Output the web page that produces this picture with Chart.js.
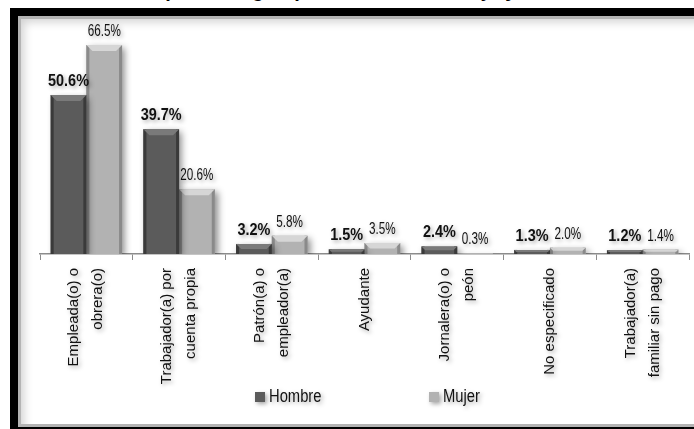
<!DOCTYPE html>
<html>
<head>
<meta charset="utf-8">
<script src="https://cdn.jsdelivr.net/npm/chart.js@4.4.1/dist/chart.umd.min.js"></script>
<style>
  body { margin: 0; background: #fff; overflow: hidden; }
  #wrap { position: relative; width: 694px; height: 429px; overflow: hidden; }
  #title {
    position: absolute; left: 0; top: -20px; width: 694px; text-align: center;
    font: bold 20px 'Liberation Sans', Arial, sans-serif; line-height: 20px; color: #000;
  }
  #frame {
    position: absolute; left: 10px; top: 8px; width: 800px; height: 411px;
    border: 8px solid #000; border-bottom-width: 2px; background: #fff;
    box-shadow: inset 3px 3px 0 #b4b4b4, inset 0 -3px 0 #b4b4b4, inset 6px 6px 10px rgba(0,0,0,0.18);
  }
  #myChart { position: absolute; left: 0; top: 0; }
</style>
</head>
<body>
<div id="wrap">
  <div id="title">Ocupados según posición en el trabajo y sexo</div>
  <div id="frame"></div>
  <canvas id="myChart" width="694" height="429"></canvas>
</div>
<script>
// data
const categories = [
  ['Empleada(o) o', 'obrera(o)'],
  ['Trabajador(a) por', 'cuenta propia'],
  ['Patrón(a) o', 'empleador(a)'],
  ['Ayudante'],
  ['Jornalera(o) o', 'peón'],
  ['No especificado'],
  ['Trabajador(a)', 'familiar sin pago']
]
const hombre = [50.6, 39.7, 3.2, 1.5, 2.4, 1.3, 1.2]
const mujer = [66.5, 20.6, 5.8, 3.5, 0.3, 2.0, 1.4]
const seriesNames = ['Hombre', 'Mujer']

const sans = "'Liberation Sans', Arial, sans-serif"
const barColors = ['#5b5b5b', '#b2b2b2']
const edgeColors = ['#3a3a3a', '#8a8a8a']
const topColors = ['#7a7a7a', '#d6d6d6']

function shadowOn(c, blur, off, alpha) {
  c.shadowColor = 'rgba(0,0,0,' + alpha + ')'
  c.shadowBlur = blur
  c.shadowOffsetX = off
  c.shadowOffsetY = off
}

// text squeezed sideways, the picture uses a narrow face
function narrowText(c, txt, x, y, squeeze) {
  c.save()
  c.translate(x, y)
  c.scale(squeeze, 1)
  c.fillText(txt, 0, 0)
  c.restore()
}

// shadow + bevel for the bars
const barLook = {
  id: 'barLook',
  beforeDatasetDraw(chart) {
    chart.ctx.save()
    shadowOn(chart.ctx, 7, 3, 0.45)
  },
  afterDatasetDraw(chart, args) {
    chart.ctx.restore()
    const c = chart.ctx
    const i = args.index
    args.meta.data.forEach(bar => {
      const left = bar.x - bar.width / 2
      const right = bar.x + bar.width / 2
      const top = bar.y
      const h = bar.base - bar.y
      if (h < 1) return
      const b = Math.min(6, h / 2)
      c.fillStyle = edgeColors[i]
      c.fillRect(left, top, 3, h)
      c.fillRect(right - 3, top, 3, h)
      c.beginPath()
      c.moveTo(left, top)
      c.lineTo(right, top)
      c.lineTo(right - b, top + b)
      c.lineTo(left + b, top + b)
      c.closePath()
      c.fillStyle = topColors[i]
      c.fill()
    })
  }
}

// value labels over the bars
const valueLabels = {
  id: 'valueLabels',
  afterDatasetsDraw(chart) {
    const c = chart.ctx
    c.save()
    c.textAlign = 'center'
    c.textBaseline = 'alphabetic'
    c.fillStyle = '#111'
    shadowOn(c, 4, 2, 0.35)
    chart.data.datasets.forEach((ds, i) => {
      c.font = i == 0 ? 'bold 17px ' + sans : '16px ' + sans
      chart.getDatasetMeta(i).data.forEach((bar, j) => {
        narrowText(c, ds.data[j].toFixed(1) + '%', bar.x, bar.y - 9, i == 0 ? 0.85 : 0.73)
      })
    })
    c.restore()
  }
}

// category names, rotated, centred on each tick
const catLabels = {
  id: 'catLabels',
  afterDraw(chart) {
    const c = chart.ctx
    const x = chart.scales.x
    c.save()
    c.font = '15px ' + sans
    c.fillStyle = '#111'
    c.textAlign = 'right'
    c.textBaseline = 'middle'
    shadowOn(c, 4, 2, 0.35)
    categories.forEach((lines, i) => {
      c.save()
      c.translate(x.getPixelForTick(i), x.top + 14)
      c.rotate(-Math.PI / 2)
      lines.forEach((ln, k) => {
        c.fillText(ln, 0, (k - (lines.length - 1) / 2) * 24)
      })
      c.restore()
    })
    c.restore()
  }
}

// legend under the category names
const bottomLegend = {
  id: 'bottomLegend',
  afterDraw(chart) {
    const c = chart.ctx
    const y = 397
    const xs = [255, 429]
    c.save()
    c.font = '18px ' + sans
    c.textBaseline = 'middle'
    shadowOn(c, 4, 2, 0.35)
    chart.data.datasets.forEach((ds, i) => {
      c.fillStyle = barColors[i]
      c.fillRect(xs[i], y - 5, 10, 10)
      c.fillStyle = '#111'
      narrowText(c, ds.label, xs[i] + 14, y, 0.82)
    })
    c.restore()
  }
}

const ctx = document.getElementById('myChart')
new Chart(ctx, {
  type: 'bar',
  data: {
    labels: categories,
    datasets: [
      { label: seriesNames[0], data: hombre, backgroundColor: barColors[0] },
      { label: seriesNames[1], data: mujer, backgroundColor: barColors[1] }
    ]
  },
  options: {
    responsive: false,
    animation: false,
    layout: { padding: { left: 40, right: 5, top: 34, bottom: 50 } },
    datasets: { bar: { barPercentage: 1, categoryPercentage: 0.77 } },
    plugins: {
      legend: { display: false },
      tooltip: { enabled: false }
    },
    scales: {
      y: { display: false, min: 0, max: 70 },
      x: {
        afterFit(scale) { scale.height = 125 },
        border: { display: true, color: '#8c8c8c', width: 1.5 },
        grid: { drawOnChartArea: false, color: '#8c8c8c', tickLength: 6, offset: true },
        ticks: { display: false }
      }
    }
  },
  plugins: [barLook, valueLabels, catLabels, bottomLegend]
})
</script>
</body>
</html>
